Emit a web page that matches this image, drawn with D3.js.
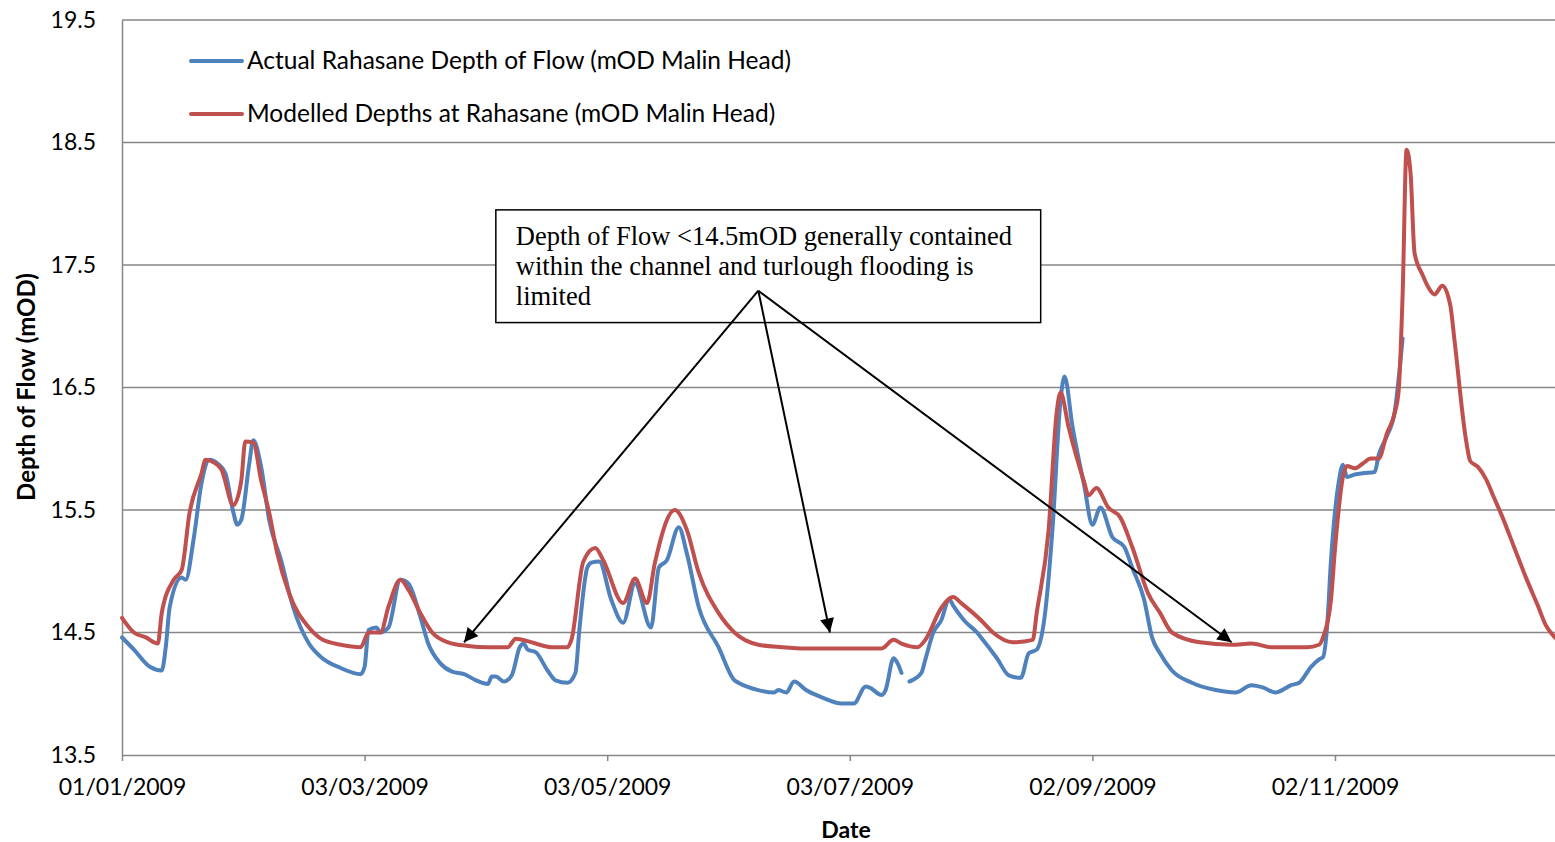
<!DOCTYPE html>
<html>
<head>
<meta charset="utf-8">
<script src="https://cdn.jsdelivr.net/npm/d3@7/dist/d3.min.js"></script>
<style>
  body { margin: 0; background: #fff; }
  svg text { font-family: Lato, "Open Sans", sans-serif; fill: #000; }
</style>
</head>
<body>
<svg width="1555" height="842"></svg>
<script>
// Days since 01/01/2009 and depths (mOD)
const modelDay = [0, 3, 6, 9, 10, 13, 15, 17, 20, 21, 23, 25, 28, 30, 31, 33, 35, 37, 39, 42, 47, 50, 55, 60, 62, 64, 65, 67, 70, 72, 75, 78, 82, 87, 92, 97, 99, 102, 105, 108, 112, 113, 116, 119, 121, 126, 129, 132, 134, 139, 142, 145, 150, 154, 160, 166, 172, 180, 191, 194, 196, 200, 202, 206, 209, 211, 216, 219, 224, 229, 230, 233, 235, 236, 238, 242, 243, 245, 248, 251, 254, 258, 261, 264, 271, 279, 284, 289, 298, 301, 302, 304, 305, 307, 308, 310, 312, 314, 316, 318, 320, 321, 322, 323, 324, 325, 327, 329, 330, 332, 334, 335, 338, 339, 341, 343, 345, 347, 350, 353, 356, 358, 360, 361];
const modelDepth = [14.62, 14.50, 14.46, 14.41, 14.66, 14.93, 15.01, 15.48, 15.80, 15.91, 15.89, 15.83, 15.54, 15.74, 16.06, 16.05, 15.74, 15.48, 15.15, 14.82, 14.54, 14.45, 14.40, 14.38, 14.50, 14.50, 14.50, 14.71, 14.93, 14.85, 14.66, 14.50, 14.42, 14.39, 14.38, 14.38, 14.45, 14.43, 14.40, 14.38, 14.38, 14.44, 15.08, 15.19, 15.09, 14.74, 14.94, 14.74, 15.07, 15.50, 15.34, 14.99, 14.66, 14.50, 14.40, 14.38, 14.37, 14.37, 14.37, 14.44, 14.41, 14.38, 14.44, 14.70, 14.79, 14.74, 14.60, 14.50, 14.42, 14.44, 14.66, 15.34, 16.29, 16.46, 16.18, 15.72, 15.62, 15.68, 15.52, 15.44, 15.20, 14.82, 14.66, 14.50, 14.42, 14.40, 14.41, 14.38, 14.38, 14.40, 14.46, 14.77, 15.18, 15.77, 15.86, 15.84, 15.88, 15.92, 15.92, 16.12, 16.29, 16.47, 17.25, 18.44, 18.25, 17.60, 17.42, 17.29, 17.26, 17.33, 17.17, 16.90, 16.06, 15.90, 15.85, 15.75, 15.60, 15.45, 15.20, 14.95, 14.72, 14.56, 14.47, 14.44];

const actualDay = [0, 3, 7, 10, 11, 12, 15, 16, 18, 20, 22, 24, 26, 28, 29, 30, 32, 33, 35, 37, 40, 43, 47, 50, 55, 60, 61, 62, 64, 65, 67, 70, 72, 75, 77, 80, 83, 86, 89, 92, 93, 94, 96, 98, 100, 101, 102, 104, 107, 109, 112, 114, 115, 117, 118, 120, 123, 126, 129, 133, 135, 137, 140, 142, 145, 150, 154, 155, 160, 164, 165, 167, 169, 172, 176, 181, 184, 187, 188, 191, 192, 194, 195, 196, 197, 198, 201, 202, 204, 206, 208, 209, 212, 215, 216, 220, 223, 226, 228, 230, 232, 234, 236, 237, 239, 242, 244, 246, 249, 252, 254, 257, 259, 261, 264, 269, 275, 280, 284, 287, 290, 294, 296, 299, 301, 302, 303, 304, 306, 307, 308, 310, 312, 315, 316, 318, 320, 322];
const actualDepth = [14.46, 14.36, 14.22, 14.19, 14.38, 14.71, 14.95, 14.93, 15.26, 15.72, 15.91, 15.88, 15.80, 15.48, 15.38, 15.42, 15.88, 16.07, 15.85, 15.42, 15.09, 14.71, 14.41, 14.30, 14.21, 14.16, 14.22, 14.52, 14.54, 14.50, 14.54, 14.93, 14.90, 14.63, 14.41, 14.25, 14.18, 14.16, 14.11, 14.08, 14.14, 14.14, 14.10, 14.15, 14.38, 14.41, 14.36, 14.34, 14.19, 14.11, 14.09, 14.17, 14.52, 15.03, 15.07, 15.08, 14.77, 14.58, 14.90, 14.54, 15.03, 15.09, 15.36, 15.15, 14.71, 14.38, 14.11, 14.09, 14.03, 14.01, 14.03, 14.01, 14.10, 14.03, 13.97, 13.92, 13.92, 14.06, 14.05, 13.99, 14.03, 14.29, 14.25, 14.17, null, 14.10, 14.17, 14.28, 14.50, 14.60, 14.77, 14.72, 14.59, 14.50, 14.46, 14.29, 14.15, 14.13, 14.33, 14.36, 14.63, 15.36, 16.40, 16.59, 16.18, 15.69, 15.38, 15.52, 15.28, 15.20, 15.03, 14.77, 14.46, 14.33, 14.19, 14.09, 14.03, 14.01, 14.07, 14.05, 14.01, 14.07, 14.09, 14.22, 14.28, 14.30, 14.54, 15.09, 15.74, 15.87, 15.77, 15.79, 15.80, 15.81, 15.95, 16.10, 16.30, 16.90];

const seriesNames = ["Actual Rahasane Depth of Flow (mOD Malin Head)", "Modelled Depths at Rahasane (mOD Malin Head)"];
const seriesColors = ["#4f81bd", "#c0504d"];
const dateTicks = ["2009-01-01", "2009-03-03", "2009-05-03", "2009-07-03", "2009-09-02", "2009-11-02"];
const depthTicks = [13.5, 14.5, 15.5, 16.5, 17.5, 18.5, 19.5];

// Annotation: note box (day range, depth range), arrow start and arrow tips (day, depth)
const noteLines = ["Depth of Flow <14.5mOD generally contained", "within the channel and turlough flooding is", "limited"];
const noteBox = { day0: 94, day1: 231.3, top: 17.95, bottom: 17.03 };
const arrowFrom = { day: 160.4, depth: 17.29 };
const arrowTips = [{ day: 86.7, depth: 14.42 }, { day: 178, depth: 14.50 }, { day: 279.6, depth: 14.42 }];

const W = 1555, H = 842;
const margin = { top: 20, left: 122 };
const plotH = 735;
const start = new Date(2009, 0, 1);
const parse = d3.timeParse("%Y-%m-%d");
const dayDate = d => d3.timeDay.offset(start, d);

const svg = d3.select("svg");

const x = d3.scaleTime()
  .domain([start, new Date(2010, 0, 1)])
  .range([margin.left, margin.left + 365 * 3.977]);
const y = d3.scaleLinear().domain([13.5, 19.5]).range([margin.top + plotH, margin.top]);

// gridlines
svg.append("g").selectAll("line")
  .data(depthTicks.slice(1))
  .join("line")
  .attr("x1", margin.left).attr("x2", W)
  .attr("y1", d => y(d)).attr("y2", d => y(d))
  .attr("stroke", "#868686").attr("stroke-width", 1.5);

// y axis
const yAxis = svg.append("g")
  .attr("transform", `translate(${margin.left},0)`)
  .call(d3.axisLeft(y).tickValues(depthTicks).tickFormat(d3.format(".1f")).tickSize(0).tickPadding(26));
yAxis.select(".domain").attr("stroke", "#868686").attr("stroke-width", 1.5);
yAxis.selectAll("text").style("font-size", "23px");

// x axis
const xAxis = svg.append("g")
  .attr("transform", `translate(0,${margin.top + plotH})`)
  .call(d3.axisBottom(x).tickValues(dateTicks.map(parse)).tickFormat(d3.timeFormat("%d/%m/%Y")).tickSizeInner(6).tickSizeOuter(0).tickPadding(18));
xAxis.select(".domain").attr("stroke", "#868686").attr("stroke-width", 1.5);
xAxis.selectAll(".tick line").attr("stroke", "#868686").attr("stroke-width", 1.5);
xAxis.selectAll("text").style("font-size", "23px");

// axis titles
svg.append("text")
  .attr("x", 846).attr("y", 838)
  .attr("text-anchor", "middle")
  .style("font-size", "23px").style("font-weight", "bold")
  .text("Date");
svg.append("text")
  .attr("transform", "translate(35,387) rotate(-90)")
  .attr("text-anchor", "middle")
  .style("font-size", "24px").style("font-weight", "bold")
  .text("Depth of Flow (mOD)");

// series
const line = d3.line()
  .defined(d => d[1] != null)
  .x(d => x(dayDate(d[0])))
  .y(d => y(d[1]))
  .curve(d3.curveMonotoneX);

const series = [
  d3.zip(actualDay, actualDepth),
  d3.zip(modelDay, modelDepth)
];
series.forEach((pts, i) => {
  svg.append("path")
    .datum(pts)
    .attr("fill", "none")
    .attr("stroke", seriesColors[i])
    .attr("stroke-width", 4)
    .attr("stroke-linejoin", "round")
    .attr("stroke-linecap", "round")
    .attr("d", line);
});

// legend
const legend = svg.append("g");
seriesNames.forEach((name, i) => {
  const ly = 61 + i * 53;
  legend.append("line")
    .attr("x1", 191).attr("x2", 242).attr("y1", ly).attr("y2", ly)
    .attr("stroke", seriesColors[i]).attr("stroke-width", 4).attr("stroke-linecap", "round");
  legend.append("text")
    .attr("x", 247).attr("y", ly + 8)
    .style("font-size", "24.5px")
    .text(name);
});

// annotation
svg.append("defs").append("marker")
  .attr("id", "head")
  .attr("viewBox", "0 0 10 10")
  .attr("refX", 10).attr("refY", 5)
  .attr("markerWidth", 18).attr("markerHeight", 14)
  .attr("markerUnits", "userSpaceOnUse")
  .attr("orient", "auto")
  .append("path").attr("d", "M0,0 L10,5 L0,10 Z").attr("fill", "#000");

const note = svg.append("g");
const bx0 = x(dayDate(noteBox.day0)), bx1 = x(dayDate(noteBox.day1));
note.append("rect")
  .attr("x", bx0).attr("y", y(noteBox.top))
  .attr("width", bx1 - bx0).attr("height", y(noteBox.bottom) - y(noteBox.top))
  .attr("fill", "#fff").attr("stroke", "#000").attr("stroke-width", 1.5);
note.selectAll("text")
  .data(noteLines)
  .join("text")
  .attr("x", bx0 + 20)
  .attr("y", (d, i) => y(noteBox.top) + 35 + i * 30)
  .style("font-family", "'Liberation Serif', 'Times New Roman', serif")
  .style("font-size", "26.5px")
  .text(d => d);

note.selectAll("line")
  .data(arrowTips)
  .join("line")
  .attr("x1", x(dayDate(arrowFrom.day))).attr("y1", y(arrowFrom.depth))
  .attr("x2", d => x(dayDate(d.day))).attr("y2", d => y(d.depth))
  .attr("stroke", "#000").attr("stroke-width", 2)
  .attr("marker-end", "url(#head)");
</script>
</body>
</html>
